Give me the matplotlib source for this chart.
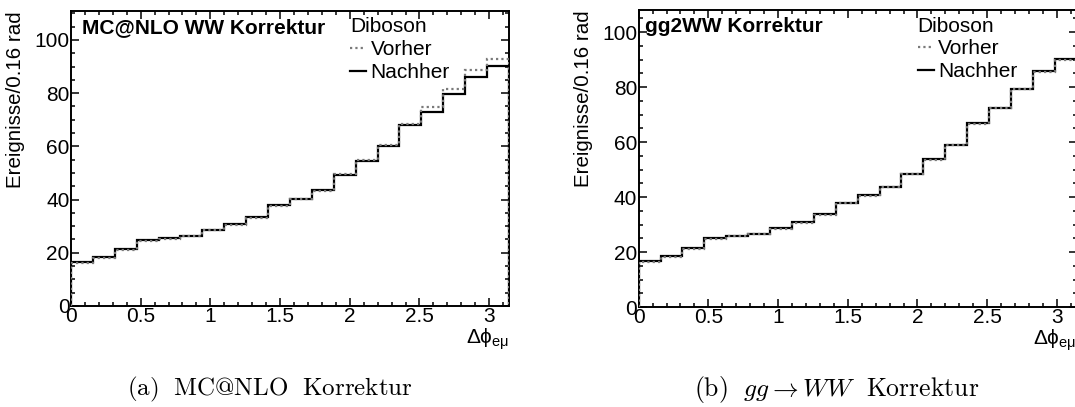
import matplotlib
matplotlib.use("Agg")
import matplotlib.pyplot as plt
from matplotlib.ticker import MultipleLocator
from matplotlib.lines import Line2D
import numpy as np

plt.rcParams['font.family'] = ['Liberation Sans', 'DejaVu Sans']
plt.rcParams['mathtext.fontset'] = 'custom'
plt.rcParams['mathtext.rm'] = 'Liberation Sans'
plt.rcParams['mathtext.it'] = 'Liberation Sans:italic'
plt.rcParams['mathtext.bf'] = 'Liberation Sans:bold'

# 20 bins in delta phi from 0 to pi (0.16 rad each)
bin_edges = np.linspace(0, np.pi, 21)

# (a) MC@NLO correction
mcnlo_vorher = [16.2, 18.2, 21.1, 24.6, 25.3, 26.2, 28.4, 30.5, 33.1, 37.7,
                40.2, 43.4, 49.5, 54.7, 60.4, 68.6, 74.7, 81.6, 88.9, 92.7]
mcnlo_nachher = [16.5, 18.5, 21.4, 24.9, 25.6, 26.4, 28.6, 30.7, 33.3, 37.9,
                 40.4, 43.5, 49.4, 54.4, 60.0, 67.9, 73.0, 79.6, 85.9, 90.2]

# (b) gg -> WW correction
gg_vorher = [16.4, 18.2, 21.1, 24.9, 25.7, 26.5, 28.5, 30.7, 33.5, 37.8,
             40.5, 43.5, 48.3, 53.5, 58.8, 66.7, 72.2, 79.1, 85.6, 89.9]
gg_nachher = [16.6, 18.4, 21.3, 25.1, 25.9, 26.7, 28.7, 30.9, 33.7, 38.0,
              40.7, 43.7, 48.5, 53.7, 59.0, 66.9, 72.4, 79.3, 85.8, 90.1]

fig = plt.figure(figsize=(10.75, 4.07), dpi=100)
ax_a = fig.add_axes([0.0660, 0.2482, 0.4074, 0.7248])
ax_b = fig.add_axes([0.5941, 0.2457, 0.4074, 0.7297])

panels = [
    (ax_a, mcnlo_vorher, mcnlo_nachher, "MC@NLO WW Korrektur", 110.9, 0.025),
    (ax_b, gg_vorher, gg_nachher, "gg2WW Korrektur", 108.0, 0.014),
]

for ax, vorher, nachher, title, ymax, tx in panels:
    ax.stairs(nachher, bin_edges, color="black", lw=1.6, zorder=3)
    ax.stairs(vorher, bin_edges, color="#7a7a7a", lw=1.6,
              linestyle=(0, (1, 1.4)), zorder=4)
    ax.set_xlim(0, np.pi)
    ax.set_ylim(0, ymax)

    ax.xaxis.set_major_locator(MultipleLocator(0.5))
    ax.xaxis.set_minor_locator(MultipleLocator(0.1))
    ax.yaxis.set_major_locator(MultipleLocator(20))
    ax.yaxis.set_minor_locator(MultipleLocator(5))
    ax.xaxis.set_major_formatter(plt.FuncFormatter(lambda v, p: f"{v:g}"))
    ax.tick_params(which="both", direction="in", top=True, right=True,
                   labelsize=15, width=1.1)
    ax.tick_params(which="major", length=5.8, pad=1.0)
    ax.tick_params(which="minor", length=2.9)
    for sp in ax.spines.values():
        sp.set_linewidth(1.4)

    ax.set_ylabel("Ereignisse/0.16 rad", fontsize=14.8, loc="top")
    ax.yaxis.set_label_coords(-0.104, 1.0)
    ax.set_xlabel(r"$\Delta\mathrm{\phi}_{\mathrm{e\mu}}$", fontsize=15, loc="right")
    ax.xaxis.set_label_coords(1.0, -0.07)

    ax.text(tx, 0.925, title, transform=ax.transAxes, fontsize=15,
            fontweight="bold", va="baseline", ha="left")

    handles = [Line2D([], [], color="#7a7a7a", lw=1.6, linestyle=(0, (1, 1.4))),
               Line2D([], [], color="black", lw=1.6)]
    leg = ax.legend(handles, ["Vorher", "Nachher"], title="Diboson",
                    loc="upper left", bbox_to_anchor=(0.632, 0.985),
                    frameon=False, fontsize=15, title_fontsize=15,
                    handlelength=0.8, handletextpad=0.2, labelspacing=0.18,
                    borderpad=0.1, borderaxespad=0.0, alignment="left")

fig.text(0.251, 0.028, r"$\mathrm{(a)\ \ MC@NLO\ \ Korrektur}$",
         fontsize=18, ha="center", va="baseline", math_fontfamily="cm")
fig.text(0.778, 0.028, r"$\mathrm{(b)}\ \ gg \rightarrow WW\ \ \mathrm{Korrektur}$",
         fontsize=18.5, ha="center", va="baseline", math_fontfamily="cm")

plt.savefig("out.png", dpi=100)
